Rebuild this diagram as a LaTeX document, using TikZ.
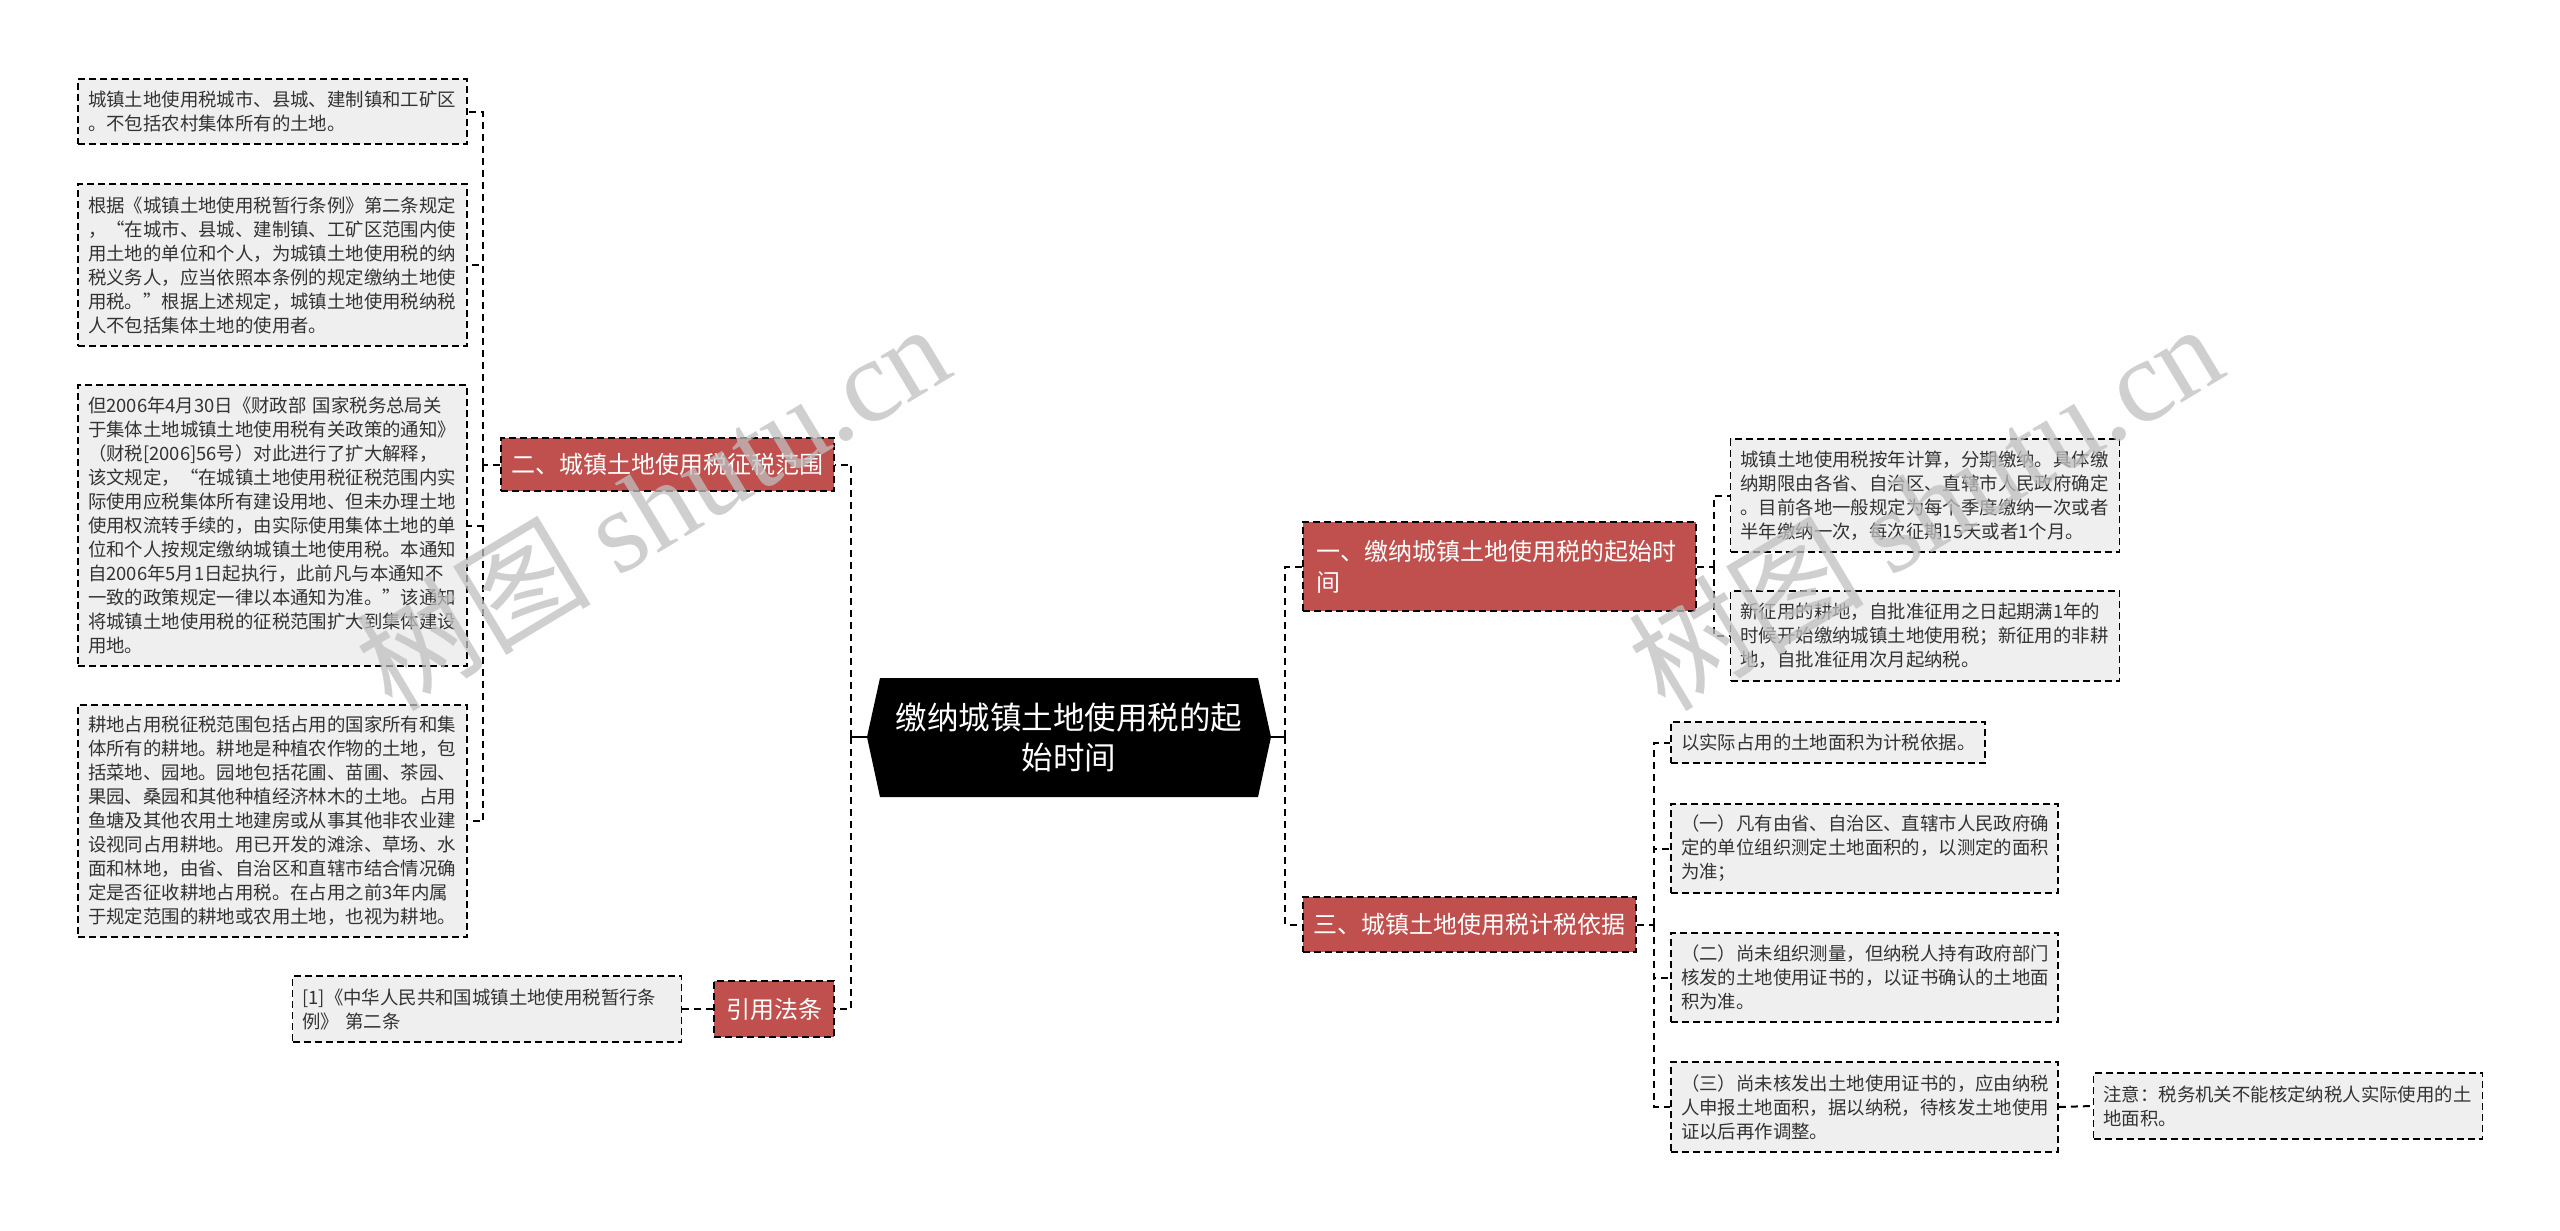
\documentclass[tikz,border=0pt]{standalone}
\usepackage{fontspec}
\setmainfont{Noto Sans CJK SC}
\newfontfamily\wmlatin{Liberation Serif}
\definecolor{nodered}{HTML}{C0504D}
\definecolor{leaffill}{HTML}{EFEFEF}
\definecolor{leaftext}{HTML}{333333}
\begin{document}
\begin{tikzpicture}[x=1pt,y=-1pt,
  conn/.style={draw=black,line width=2pt,dash pattern=on 7pt off 5pt},
  rootconn/.style={draw=black,line width=2pt},
  leaf/.style={draw=black,line width=1.8pt,dash pattern=on 7pt off 4pt,fill=leaffill,text=leaftext,
    font=\fontsize{18.4pt}{24pt}\selectfont,align=left,text width=369pt,inner xsep=10pt,inner ysep=0pt,anchor=center},
  topic/.style={draw=black,line width=1.8pt,dash pattern=on 7pt off 4pt,fill=nodered,text=white,
    font=\fontsize{24pt}{31pt}\selectfont,inner xsep=8pt,inner ysep=0pt,anchor=center},
  wm/.style={text=black!25,opacity=0.75,font=\fontsize{118pt}{118pt}\selectfont,rotate=31,anchor=center}
]
\fill[white] (0,0) rectangle (2560,1231);
\useasboundingbox (0,0) rectangle (2560,1231);

% root
\coordinate (rootL) at (867,737);
\coordinate (rootR) at (1271,737);
\fill[black] (rootL) -- (880,678) -- (1258,678) -- (rootR) -- (1258,797) -- (880,797) -- cycle;
\node[text=white,align=center,font=\fontsize{31.5pt}{40pt}\selectfont] (root) at (1069,737) {缴纳城镇土地使用税的起\\始时间};

% left topics
\node[topic,minimum width=333pt,minimum height=53pt] (n2) at (667.5,464.5) {二、城镇土地使用税征税范围};
\node[topic,minimum width=120pt,minimum height=56pt] (yin) at (774,1009) {引用法条};

% left leaves
\node[leaf,minimum height=65pt] (L1) at (272.5,111.5) {城镇土地使用税城市、县城、建制镇和工矿区\\。不包括农村集体所有的土地。};
\node[leaf,minimum height=162pt] (L2) at (272.5,265) {根据《城镇土地使用税暂行条例》第二条规定\\，“在城市、县城、建制镇、工矿区范围内使\\用土地的单位和个人，为城镇土地使用税的纳\\税义务人，应当依照本条例的规定缴纳土地使\\用税。”根据上述规定，城镇土地使用税纳税\\人不包括集体土地的使用者。};
\node[leaf,minimum height=281pt] (L3) at (272.5,525.5) {但2006年4月30日《财政部 国家税务总局关\\于集体土地城镇土地使用税有关政策的通知》\\（财税[2006]56号）对此进行了扩大解释，\\该文规定，“在城镇土地使用税征税范围内实\\际使用应税集体所有建设用地、但未办理土地\\使用权流转手续的，由实际使用集体土地的单\\位和个人按规定缴纳城镇土地使用税。本通知\\自2006年5月1日起执行，此前凡与本通知不\\一致的政策规定一律以本通知为准。”该通知\\将城镇土地使用税的征税范围扩大到集体建设\\用地。};
\node[leaf,minimum height=232pt] (L4) at (272.5,821) {耕地占用税征税范围包括占用的国家所有和集\\体所有的耕地。耕地是种植农作物的土地，包\\括菜地、园地。园地包括花圃、苗圃、茶园、\\果园、桑园和其他种植经济林木的土地。占用\\鱼塘及其他农用土地建房或从事其他非农业建\\设视同占用耕地。用已开发的滩涂、草场、水\\面和林地，由省、自治区和直辖市结合情况确\\定是否征收耕地占用税。在占用之前3年内属\\于规定范围的耕地或农用土地，也视为耕地。};
\node[leaf,minimum height=66pt] (R1) at (487,1009) {[1]《中华人民共和国城镇土地使用税暂行条\\例》 第二条};

% right topics
\node[topic,minimum height=89pt,text width=367pt,inner xsep=13pt,align=left] (n1) at (1499.5,566.5) {一、缴纳城镇土地使用税的起始时\\间};
\node[topic,minimum width=333pt,minimum height=55pt] (n3) at (1469.5,924.5) {三、城镇土地使用税计税依据};

% right leaves
\node[leaf,minimum height=113pt] (A) at (1925,495.5) {城镇土地使用税按年计算，分期缴纳。具体缴\\纳期限由各省、自治区、直辖市人民政府确定\\。目前各地一般规定为每个季度缴纳一次或者\\半年缴纳一次，每次征期15天或者1个月。};
\node[leaf,minimum height=90pt] (B) at (1925,636) {新征用的耕地，自批准征用之日起期满1年的\\时候开始缴纳城镇土地使用税；新征用的非耕\\地，自批准征用次月起纳税。};
\node[leaf,minimum height=41pt,text width=294pt] (C) at (1828,742.5) {以实际占用的土地面积为计税依据。};
\node[leaf,minimum height=89pt,text width=367pt] (D) at (1864.5,848.5) {（一）凡有由省、自治区、直辖市人民政府确\\定的单位组织测定土地面积的，以测定的面积\\为准；};
\node[leaf,minimum height=89pt,text width=367pt] (E) at (1864.5,977.5) {（二）尚未组织测量，但纳税人持有政府部门\\核发的土地使用证书的，以证书确认的土地面\\积为准。};
\node[leaf,minimum height=90pt,text width=367pt] (F) at (1864.5,1107) {（三）尚未核发出土地使用证书的，应由纳税\\人申报土地面积，据以纳税，待核发土地使用\\证以后再作调整。};
\node[leaf,minimum height=66pt] (G) at (2288,1106) {注意：税务机关不能核定纳税人实际使用的土\\地面积。};

% junctions
\coordinate (jl) at (851,737);
\coordinate (jr) at (1285,737);
\coordinate (j2) at (483,464.5);
\coordinate (j1) at (1714,566.5);
\coordinate (j3) at (1654,924.5);

% connectors
\draw[rootconn] (rootL) -- (jl);
\draw[rootconn] (rootR) -- (jr);
\draw[conn] (jl) |- (n2.east);
\draw[conn] (jl) |- (yin.east);
\draw[conn] (jr) |- (n1.west);
\draw[conn] (jr) |- (n3.west);
\draw[conn] (n2.west) -- (j2);
\draw[conn] (j2) |- (L1.east);
\draw[conn] (j2) |- (L2.east);
\draw[conn] (j2) |- (L3.east);
\draw[conn] (j2) |- (L4.east);
\draw[conn] (yin.west) -- (R1.east);
\draw[conn] (n1.east) -- (j1);
\draw[conn] (j1) |- (A.west);
\draw[conn] (j1) |- (B.west);
\draw[conn] (n3.east) -- (j3);
\draw[conn] (j3) |- (C.west);
\draw[conn] (j3) |- (D.west);
\draw[conn] (j3) |- (E.west);
\draw[conn] (j3) |- (F.west);
\draw[conn] (F.east) -- (G.west);

% watermark
\node[wm] (wm1) at (652,505) {树图 {\wmlatin shutu.cn}};
\node[wm] (wm2) at (1925,505) {树图 {\wmlatin shutu.cn}};
\end{tikzpicture}
\end{document}
